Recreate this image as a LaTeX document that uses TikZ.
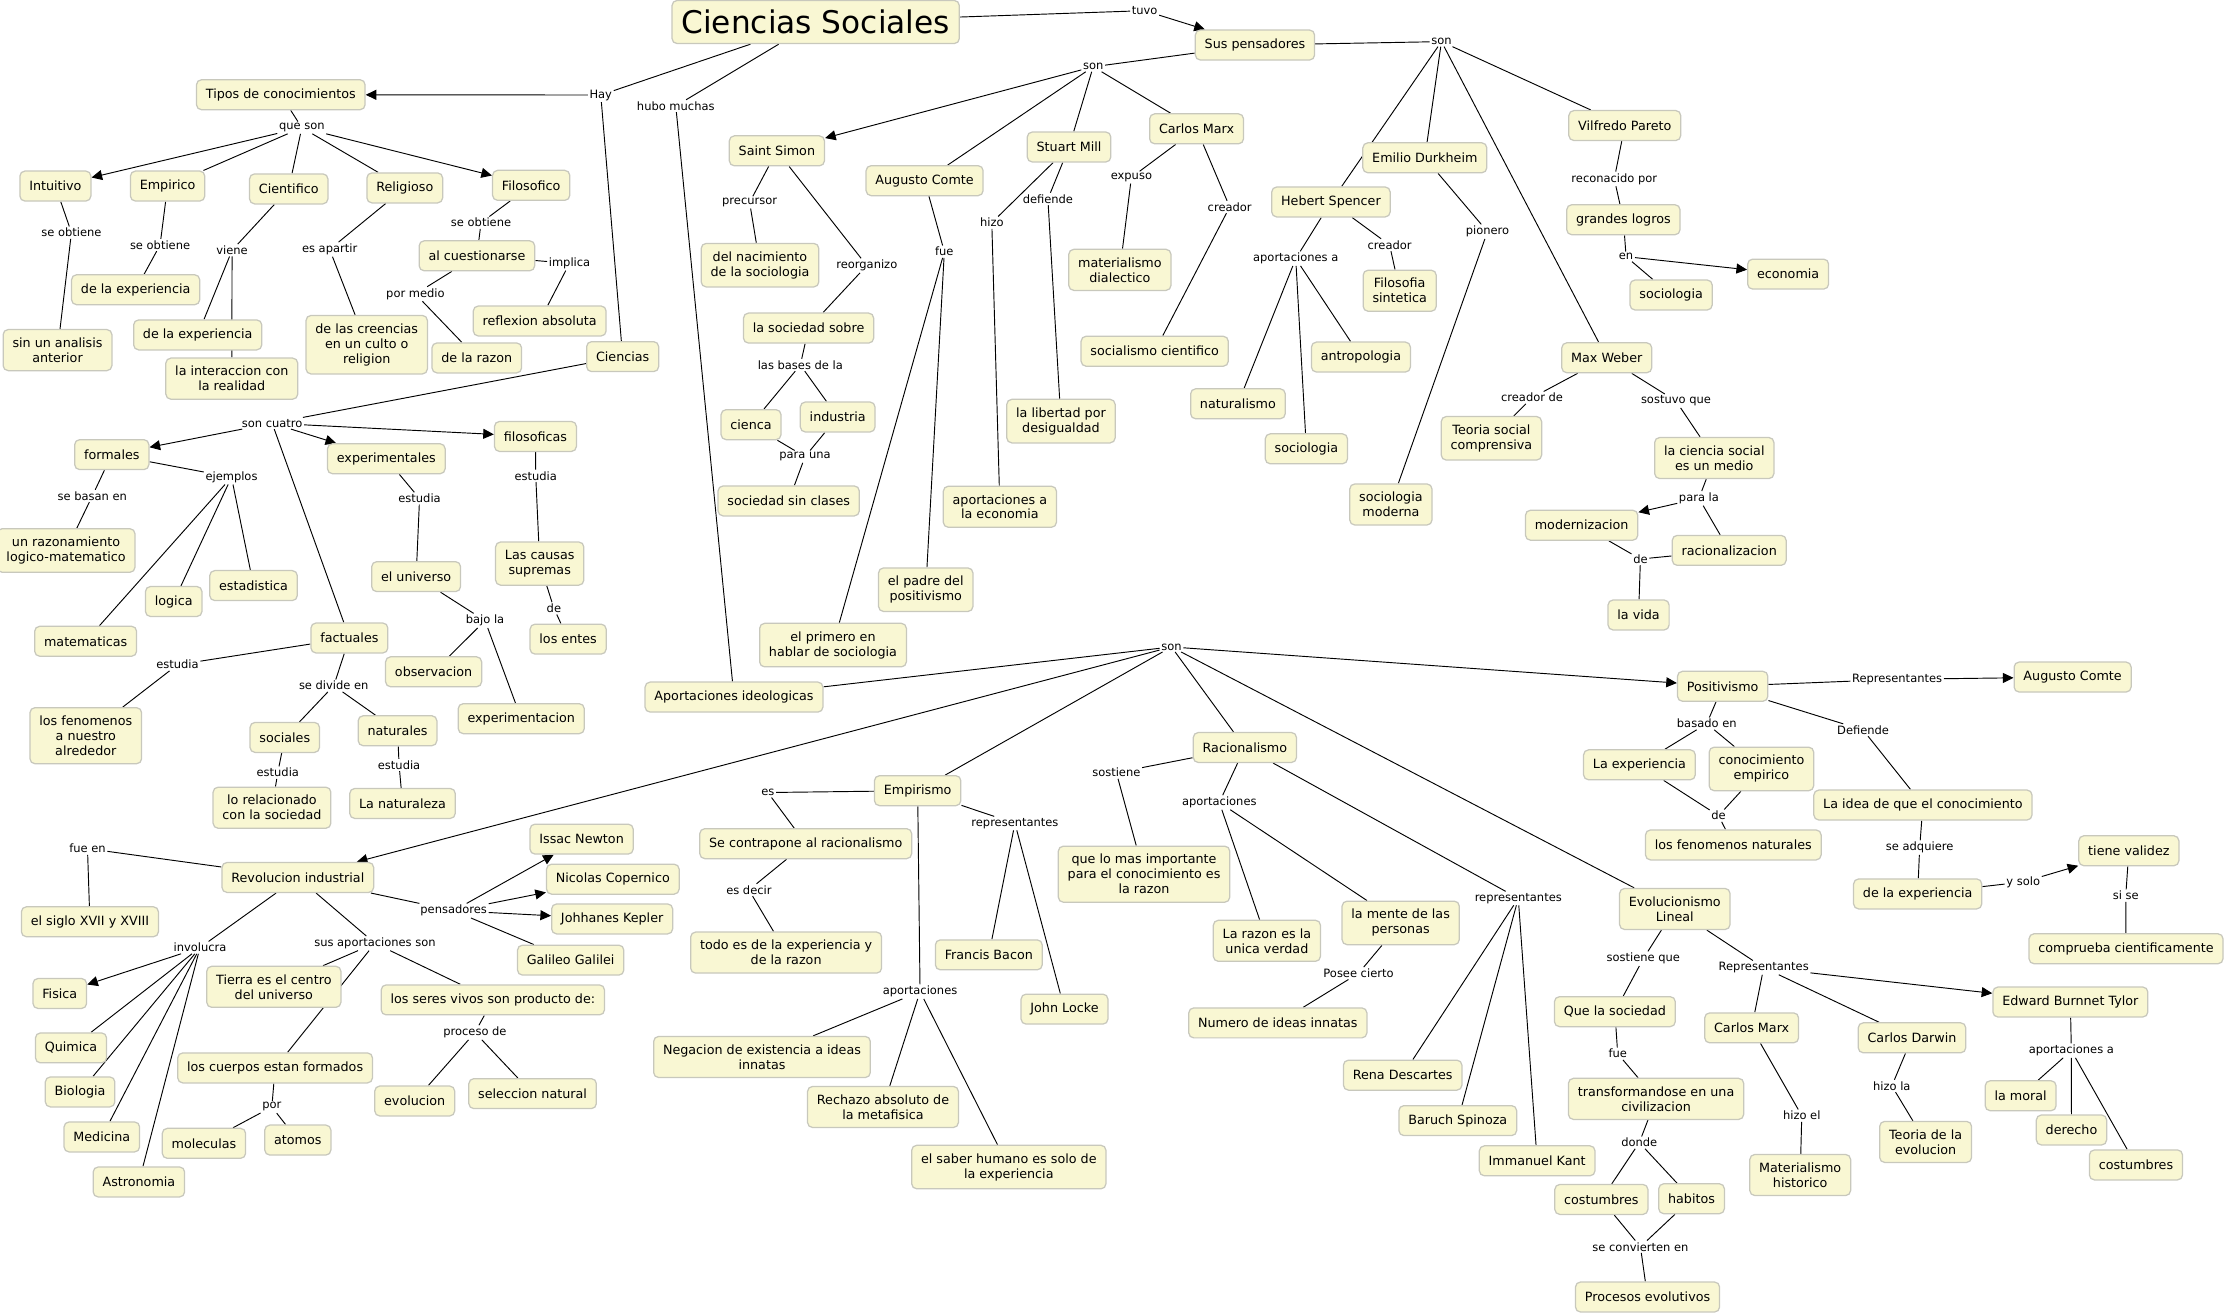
\documentclass[tikz,border=0pt]{standalone}
\usepackage{fontspec}
\setmainfont{DejaVu Sans}
\usetikzlibrary{arrows.meta}
\definecolor{cfill}{RGB}{249,247,211}
\definecolor{cbord}{RGB}{200,200,188}
\newcommand{\cmnodefont}{\fontsize{10.2}{12}\selectfont}
\newcommand{\cmlabfont}{\fontsize{9.2}{11}\selectfont}
\newcommand{\cmtitlefont}{\fontsize{25}{30}\selectfont}
\pgfdeclarelayer{bg}
\pgfdeclarelayer{edges}
\pgfsetlayers{bg,edges,main}
\tikzset{
 cnode/.style={draw=cbord, fill=cfill, line width=1pt, rounded corners=4pt, inner xsep=7.5pt, inner ysep=6.5pt, minimum height=24pt, align=center, font=\cmnodefont},
 ttl/.style={cnode, font=\cmtitlefont, inner ysep=3pt, minimum height=34.5pt},
 lnode/.style={inner sep=1.2pt, font=\cmlabfont},
 conn/.style={line width=0.75pt, draw=black},
 arr/.style={conn, -{Triangle[length=8.5pt,width=8pt]}},
}
\begin{document}
\begin{tikzpicture}[x=0.04cm,y=-0.04cm]
\begin{pgfonlayer}{bg}
\fill[white] (0,0) rectangle (1568,924);
\end{pgfonlayer}
\useasboundingbox (0,0) rectangle (1568,924);
% ---------- concepts ----------
\node[ttl] (T) at (574.3,15.5) {Ciencias Sociales};
\node[cnode] (SP) at (883.6,31.7) {Sus pensadores};
\node[cnode] (Tipos) at (197.7,66.7) {Tipos de conocimientos};
\node[cnode] (Intuitivo) at (39,131) {Intuitivo};
\node[cnode] (Empirico) at (118,131) {Empirico};
\node[cnode] (Cientifico) at (203.3,133) {Cientifico};
\node[cnode] (Religioso) at (285,132.3) {Religioso};
\node[cnode] (Filosofico) at (374,130.5) {Filosofico};
\node[cnode] (sinanalisis) at (40.5,246.5) {sin un analisis\\anterior};
\node[cnode] (expA) at (95.5,204) {de la experiencia};
\node[cnode] (expB) at (139.2,235.8) {de la experiencia};
\node[cnode] (interac) at (163.2,266.6) {la interaccion con\\la realidad};
\node[cnode] (creencias) at (258.2,242.7) {de las creencias\\en un culto o\\religion};
\node[cnode] (cuestionarse) at (335.8,180.1) {al cuestionarse};
\node[cnode] (reflexion) at (380,226) {reflexion absoluta};
\node[cnode] (razon) at (335.7,252) {de la razon};
\node[cnode] (Ciencias) at (438.4,251.1) {Ciencias};
\node[cnode] (formales) at (78.7,320.1) {formales};
\node[cnode] (experimentales) at (272,323) {experimentales};
\node[cnode] (filosoficas) at (377,307.3) {filosoficas};
\node[cnode] (factuales) at (246,449.2) {factuales};
\node[cnode] (razonamiento) at (46.5,387.6) {un razonamiento\\logico-matematico};
\node[cnode] (matematicas) at (60.3,451.5) {matematicas};
\node[cnode] (logica) at (122.3,423.5) {logica};
\node[cnode] (estadistica) at (178.5,412.3) {estadistica};
\node[cnode] (universo) at (293,406) {el universo};
\node[cnode] (observacion) at (305.3,473) {observacion};
\node[cnode] (experimentacion) at (367,506) {experimentacion};
\node[cnode] (causas) at (380,396.8) {Las causas\\supremas};
\node[cnode] (entes) at (400,450) {los entes};
\node[cnode] (fenomenos) at (60.4,518) {los fenomenos\\a nuestro\\alrededor};
\node[cnode] (sociales) at (200.5,519.2) {sociales};
\node[cnode] (naturales) at (279.9,514.5) {naturales};
\node[cnode] (relacionado) at (191.5,568.7) {lo relacionado\\con la sociedad};
\node[cnode] (naturaleza) at (283.4,565.7) {La naturaleza};
% thinkers
\node[cnode] (SaintSimon) at (547,106.2) {Saint Simon};
\node[cnode] (AComte) at (651,127.2) {Augusto Comte};
\node[cnode] (StuartMill) at (752.7,103.5) {Stuart Mill};
\node[cnode] (CMarx) at (842.5,90.7) {Carlos Marx};
\node[cnode] (HSpencer) at (937.1,142.2) {Hebert Spencer};
\node[cnode] (EDurkheim) at (1003.2,111.1) {Emilio Durkheim};
\node[cnode] (VPareto) at (1144,88.4) {Vilfredo Pareto};
\node[cnode] (nacimiento) at (535.1,186.7) {del nacimiento\\de la sociologia};
\node[cnode] (sociedadsobre) at (569.3,231) {la sociedad sobre};
\node[cnode] (cienca) at (528.8,299) {cienca};
\node[cnode] (industria) at (589.8,293.6) {industria};
\node[cnode] (sinclases) at (555.3,352.7) {sociedad sin clases};
\node[cnode] (padre) at (651.8,415.2) {el padre del\\positivismo};
\node[cnode] (primero) at (586.5,454.2) {el primero en\\hablar de sociologia};
\node[cnode] (aporteco) at (704,356.8) {aportaciones a\\la economia};
\node[cnode] (libertad) at (747,296.5) {la libertad por\\desigualdad};
\node[cnode] (matdial) at (788.5,190) {materialismo\\dialectico};
\node[cnode] (soccient) at (813,247.3) {socialismo cientifico};
\node[cnode] (naturalismo) at (871.6,284.3) {naturalismo};
\node[cnode] (sociologiaHS) at (919.8,316) {sociologia};
\node[cnode] (antropologia) at (958.2,251.4) {antropologia};
\node[cnode] (filsint) at (985.5,204.7) {Filosofia\\sintetica};
\node[cnode] (socmoderna) at (979.3,355.2) {sociologia\\moderna};
\node[cnode] (logros) at (1143,154.7) {grandes logros};
\node[cnode] (economia) at (1259,193) {economia};
\node[cnode] (sociologiaVP) at (1176.6,207.7) {sociologia};
\node[cnode] (MWeber) at (1131.3,251.9) {Max Weber};
\node[cnode] (teoriasocial) at (1050.1,308.6) {Teoria social\\comprensiva};
\node[cnode] (cienciasocial) at (1207,322.5) {la ciencia social\\es un medio};
\node[cnode] (modernizacion) at (1113.6,369.8) {modernizacion};
\node[cnode] (racionalizacion) at (1217.5,387.5) {racionalizacion};
\node[cnode] (vida) at (1153.7,433) {la vida};
% lower middle
\node[cnode] (aportideol) at (516.8,490.8) {Aportaciones ideologicas};
\node[cnode] (Racionalismo) at (876.5,526.3) {Racionalismo};
\node[cnode] (masimportante) at (805.5,615.5) {que lo mas importante\\para el conocimiento es\\la razon};
\node[cnode] (razonunica) at (892,662.4) {La razon es la\\unica verdad};
\node[cnode] (mente) at (986.2,649.8) {la mente de las\\personas};
\node[cnode] (ideasinnatas) at (899.7,720.2) {Numero de ideas innatas};
\node[cnode] (Descartes) at (987.6,757) {Rena Descartes};
\node[cnode] (Spinoza) at (1026.4,789) {Baruch Spinoza};
\node[cnode] (Kant) at (1082.3,817.3) {Immanuel Kant};
\node[cnode] (Empirismo) at (646.1,556.7) {Empirismo};
\node[cnode] (contrapone) at (567.3,594) {Se contrapone al racionalismo};
\node[cnode] (todoes) at (553.5,670.7) {todo es de la experiencia y\\de la razon};
\node[cnode] (Bacon) at (696.2,672.3) {Francis Bacon};
\node[cnode] (Locke) at (749.5,710.5) {John Locke};
\node[cnode] (Negacion) at (536.5,744.2) {Negacion de existencia a ideas\\innatas};
\node[cnode] (Rechazo) at (621.7,779.4) {Rechazo absoluto de\\la metafisica};
\node[cnode] (saber) at (710.3,821.7) {el saber humano es solo de\\la experiencia};
% revolucion industrial
\node[cnode] (RevInd) at (209.7,617.8) {Revolucion industrial};
\node[cnode] (siglo) at (63.3,649) {el siglo XVII y XVIII};
\node[cnode] (Fisica) at (42.1,699.5) {Fisica};
\node[cnode] (Quimica) at (50,737.8) {Quimica};
\node[cnode] (Biologia) at (56.4,768.8) {Biologia};
\node[cnode] (Medicina) at (71.7,800.5) {Medicina};
\node[cnode] (Astronomia) at (97.8,832.2) {Astronomia};
\node[cnode] (Tierra) at (192.8,694.8) {Tierra es el centro\\del universo};
\node[cnode] (seresvivos) at (347,704) {los seres vivos son producto de:};
\node[cnode] (cuerpos) at (193.7,751.9) {los cuerpos estan formados};
\node[cnode] (moleculas) at (143.6,805) {moleculas};
\node[cnode] (atomos) at (209.7,802.7) {atomos};
\node[cnode] (evolucion) at (292,775.2) {evolucion};
\node[cnode] (seleccion) at (375,770) {seleccion natural};
\node[cnode] (Newton) at (409.5,590.8) {Issac Newton};
\node[cnode] (Copernico) at (431.5,619) {Nicolas Copernico};
\node[cnode] (Kepler) at (431,647) {Johhanes Kepler};
\node[cnode] (Galilei) at (401.8,676) {Galileo Galilei};
% right side
\node[cnode] (Positivismo) at (1212.9,483.2) {Positivismo};
\node[cnode] (AComteB) at (1459.3,476.7) {Augusto Comte};
\node[cnode] (laexperiencia) at (1154.3,538.5) {La experiencia};
\node[cnode] (conocemp) at (1240.2,541.4) {conocimiento\\empirico};
\node[cnode] (fenomnat) at (1220.4,594.9) {los fenomenos naturales};
\node[cnode] (laidea) at (1353.9,566.8) {La idea de que el conocimiento};
\node[cnode] (delaexp) at (1350.2,629.4) {de la experiencia};
\node[cnode] (validez) at (1498.9,599) {tiene validez};
\node[cnode] (comprueba) at (1496.9,668) {comprueba cientificamente};
\node[cnode] (EvLineal) at (1179.2,640) {Evolucionismo\\Lineal};
\node[cnode] (quesociedad) at (1137,712.3) {Que la sociedad};
\node[cnode] (transformandose) at (1166,773.7) {transformandose en una\\civilizacion};
\node[cnode] (costumbresA) at (1127.5,844.5) {costumbres};
\node[cnode] (habitos) at (1191,844) {habitos};
\node[cnode] (procesos) at (1160,913.2) {Procesos evolutivos};
\node[cnode] (CMarxB) at (1233.3,723.7) {Carlos Marx};
\node[cnode] (CDarwin) at (1346.2,730.7) {Carlos Darwin};
\node[cnode] (Tylor) at (1457.7,705.5) {Edward Burnnet Tylor};
\node[cnode] (materialhist) at (1267.5,827.3) {Materialismo\\historico};
\node[cnode] (teoriaevol) at (1355.8,804) {Teoria de la\\evolucion};
\node[cnode] (moral) at (1422.7,771.5) {la moral};
\node[cnode] (derecho) at (1458.5,795.6) {derecho};
\node[cnode] (costumbresB) at (1503.9,820.2) {costumbres};
% ---------- linking phrases ----------
\node[lnode] (lHay) at (423,66.9) {Hay};
\node[lnode] (lhubo) at (475.8,74.6) {hubo muchas};
\node[lnode] (ltuvo) at (805.9,7.5) {tuvo};
\node[lnode] (lson1) at (769.7,47) {son};
\node[lnode] (lson2) at (1014.9,29.3) {son};
\node[lnode] (lqueson) at (212.5,89.9) {que son};
\node[lnode] (lseobA) at (50.3,163.8) {se obtiene};
\node[lnode] (lseobB) at (112.7,172.5) {se obtiene};
\node[lnode] (lviene) at (163.4,176.2) {viene};
\node[lnode] (lesapartir) at (232.1,175.6) {es apartir};
\node[lnode] (lseobC) at (338.7,156.8) {se obtiene};
\node[lnode] (limplica) at (401,185.4) {implica};
\node[lnode] (lpormedio) at (292.5,207) {por medio};
\node[lnode] (lsoncuatro) at (191.6,298) {son cuatro};
\node[lnode] (lsebasan) at (65,349.2) {se basan en};
\node[lnode] (lejemplos) at (163,336) {ejemplos};
\node[lnode] (lestudiaA) at (295.4,351) {estudia};
\node[lnode] (lbajola) at (341.5,437) {bajo la};
\node[lnode] (lestudiaB) at (377.2,335) {estudia};
\node[lnode] (ldeA) at (390,428.3) {de};
\node[lnode] (lestudiaC) at (125,468) {estudia};
\node[lnode] (lsedivide) at (235,482.8) {se divide en};
\node[lnode] (lestudiaD) at (195.6,544) {estudia};
\node[lnode] (lestudiaE) at (281,538.6) {estudia};
\node[lnode] (lprecursor) at (527.8,142.5) {precursor};
\node[lnode] (lreorganizo) at (610.3,187) {reorganizo};
\node[lnode] (lbases) at (563.5,257) {las bases de la};
\node[lnode] (lparauna) at (566.8,321.5) {para una};
\node[lnode] (lfue) at (664.9,177.2) {fue};
\node[lnode] (lhizo) at (698.3,156.8) {hizo};
\node[lnode] (ldefiende) at (737.8,140.1) {defiende};
\node[lnode] (lexpuso) at (796.6,124.9) {expuso};
\node[lnode] (lcreadorA) at (865.8,145.7) {creador};
\node[lnode] (laportA) at (912.3,182.1) {aportaciones a};
\node[lnode] (lcreadorB) at (978.4,172.5) {creador};
\node[lnode] (lpionero) at (1047.3,163.1) {pionero};
\node[lnode] (lreconocido) at (1136.6,126) {reconacido por};
\node[lnode] (len) at (1144.9,180.7) {en};
\node[lnode] (lcreadorde) at (1078.7,280) {creador de};
\node[lnode] (lsostuvo) at (1180,282.3) {sostuvo que};
\node[lnode] (lparala) at (1196.2,350.9) {para la};
\node[lnode] (ldeB) at (1155,393.6) {de};
\node[lnode] (lsonC) at (824.8,455.5) {son};
\node[lnode] (lsostiene) at (786,544) {sostiene};
\node[lnode] (laportacionesA) at (858.5,565) {aportaciones};
\node[lnode] (lposee) at (956.5,685.3) {Posee cierto};
\node[lnode] (lrepresA) at (1069,632.5) {representantes};
\node[lnode] (les) at (540.6,558) {es};
\node[lnode] (lesdecir) at (527.3,626.6) {es decir};
\node[lnode] (lrepresB) at (714.6,579.7) {representantes};
\node[lnode] (laportacionesB) at (647.8,698.2) {aportaciones};
\node[lnode] (lfueen) at (61.6,597.5) {fue en};
\node[lnode] (linvolucra) at (140.8,667.2) {involucra};
\node[lnode] (lsusaport) at (264,664.2) {sus aportaciones son};
\node[lnode] (lpor) at (191.4,779.4) {por};
\node[lnode] (lproceso) at (334.4,727) {proceso de};
\node[lnode] (lpensadores) at (319.4,641.2) {pensadores};
\node[lnode] (lRepresC) at (1335.7,478.3) {Representantes};
\node[lnode] (lbasado) at (1201.7,509.5) {basado en};
\node[lnode] (ldeC) at (1210,574.3) {de};
\node[lnode] (lDefiende) at (1311.8,514) {Defiende};
\node[lnode] (lseadq) at (1351.6,596.8) {se adquiere};
\node[lnode] (lysolo) at (1424.5,621) {y solo};
\node[lnode] (lsise) at (1496.7,630.6) {si se};
\node[lnode] (lsostieneque) at (1157,675) {sostiene que};
\node[lnode] (lfueB) at (1139,741.9) {fue};
\node[lnode] (ldonde) at (1154.2,804.5) {donde};
\node[lnode] (lseconv) at (1155,877.8) {se convierten en};
\node[lnode] (lRepresD) at (1241.8,681.3) {Representantes};
\node[lnode] (lhizoel) at (1268.6,785.5) {hizo el};
\node[lnode] (lhizola) at (1332,764.6) {hizo la};
\node[lnode] (laportB) at (1458.4,739.7) {aportaciones a};
% ---------- connectors ----------
\begin{pgfonlayer}{edges}
\foreach \a/\b in {T/lHay, lHay/Ciencias, T/lhubo, lhubo/aportideol, T/ltuvo, SP/lson1, lson1/AComte, lson1/StuartMill, lson1/CMarx, SP/lson2, lson2/HSpencer, lson2/EDurkheim, lson2/MWeber, lson2/VPareto, Tipos/lqueson, lqueson/Empirico, lqueson/Cientifico, lqueson/Religioso, Intuitivo/lseobA, lseobA/sinanalisis, Empirico/lseobB, lseobB/expA, Cientifico/lviene, lviene/expB, lviene/interac, Religioso/lesapartir, lesapartir/creencias, Filosofico/lseobC, lseobC/cuestionarse, cuestionarse/limplica, limplica/reflexion, cuestionarse/lpormedio, lpormedio/razon, Ciencias/lsoncuatro, lsoncuatro/factuales, formales/lsebasan, lsebasan/razonamiento, formales/lejemplos, lejemplos/matematicas, lejemplos/logica, lejemplos/estadistica, experimentales/lestudiaA, lestudiaA/universo, universo/lbajola, lbajola/observacion, lbajola/experimentacion, filosoficas/lestudiaB, lestudiaB/causas, causas/ldeA, ldeA/entes, factuales/lestudiaC, lestudiaC/fenomenos, factuales/lsedivide, lsedivide/sociales, lsedivide/naturales, sociales/lestudiaD, lestudiaD/relacionado, naturales/lestudiaE, lestudiaE/naturaleza}
  \draw[conn] (\a) -- (\b);
\foreach \a/\b in {SaintSimon/lprecursor, lprecursor/nacimiento, SaintSimon/lreorganizo, lreorganizo/sociedadsobre, sociedadsobre/lbases, lbases/cienca, lbases/industria, cienca/lparauna, industria/lparauna, lparauna/sinclases, AComte/lfue, lfue/padre, lfue/primero, StuartMill/lhizo, lhizo/aporteco, StuartMill/ldefiende, ldefiende/libertad, CMarx/lexpuso, lexpuso/matdial, CMarx/lcreadorA, lcreadorA/soccient, HSpencer/laportA, laportA/naturalismo, laportA/sociologiaHS, laportA/antropologia, HSpencer/lcreadorB, lcreadorB/filsint, EDurkheim/lpionero, lpionero/socmoderna, VPareto/lreconocido, lreconocido/logros, logros/len, len/sociologiaVP, MWeber/lcreadorde, lcreadorde/teoriasocial, MWeber/lsostuvo, lsostuvo/cienciasocial, cienciasocial/lparala, lparala/racionalizacion, modernizacion/ldeB, racionalizacion/ldeB, ldeB/vida}
  \draw[conn] (\a) -- (\b);
\foreach \a/\b in {aportideol/lsonC, lsonC/Racionalismo, lsonC/EvLineal, lsonC/Empirismo, Racionalismo/lsostiene, lsostiene/masimportante, Racionalismo/laportacionesA, laportacionesA/razonunica, laportacionesA/mente, Racionalismo/lrepresA, lrepresA/Descartes, lrepresA/Spinoza, lrepresA/Kant, mente/lposee, lposee/ideasinnatas, Empirismo/les, les/contrapone, contrapone/lesdecir, lesdecir/todoes, Empirismo/lrepresB, lrepresB/Bacon, lrepresB/Locke, Empirismo/laportacionesB, laportacionesB/Negacion, laportacionesB/Rechazo, laportacionesB/saber, RevInd/lfueen, lfueen/siglo, RevInd/linvolucra, linvolucra/Quimica, linvolucra/Biologia, linvolucra/Medicina, linvolucra/Astronomia, RevInd/lsusaport, lsusaport/Tierra, lsusaport/seresvivos, lsusaport/cuerpos, cuerpos/lpor, lpor/moleculas, lpor/atomos, seresvivos/lproceso, lproceso/evolucion, lproceso/seleccion, RevInd/lpensadores, lpensadores/Galilei}
  \draw[conn] (\a) -- (\b);
\foreach \a/\b in {Positivismo/lRepresC, Positivismo/lbasado, lbasado/laexperiencia, lbasado/conocemp, laexperiencia/ldeC, conocemp/ldeC, ldeC/fenomnat, Positivismo/lDefiende, lDefiende/laidea, laidea/lseadq, lseadq/delaexp, delaexp/lysolo, validez/lsise, lsise/comprueba, EvLineal/lsostieneque, lsostieneque/quesociedad, quesociedad/lfueB, lfueB/transformandose, transformandose/ldonde, ldonde/costumbresA, ldonde/habitos, costumbresA/lseconv, habitos/lseconv, lseconv/procesos, EvLineal/lRepresD, lRepresD/CMarxB, lRepresD/CDarwin, CMarxB/lhizoel, lhizoel/materialhist, CDarwin/lhizola, lhizola/teoriaevol, Tylor/laportB, laportB/moral, laportB/derecho, laportB/costumbresB}
  \draw[conn] (\a) -- (\b);
\foreach \a/\b in {lHay/Tipos, ltuvo/SP, lson1/SaintSimon, lqueson/Intuitivo, lqueson/Filosofico, lsoncuatro/formales, lsoncuatro/experimentales, lsoncuatro/filosoficas, len/economia, lparala/modernizacion, lsonC/Positivismo, lsonC/RevInd, lRepresC/AComteB, lysolo/validez, lRepresD/Tylor, linvolucra/Fisica, lpensadores/Newton, lpensadores/Copernico, lpensadores/Kepler}
  \draw[arr] (\a) -- (\b);
\end{pgfonlayer}
\end{tikzpicture}
\end{document}
